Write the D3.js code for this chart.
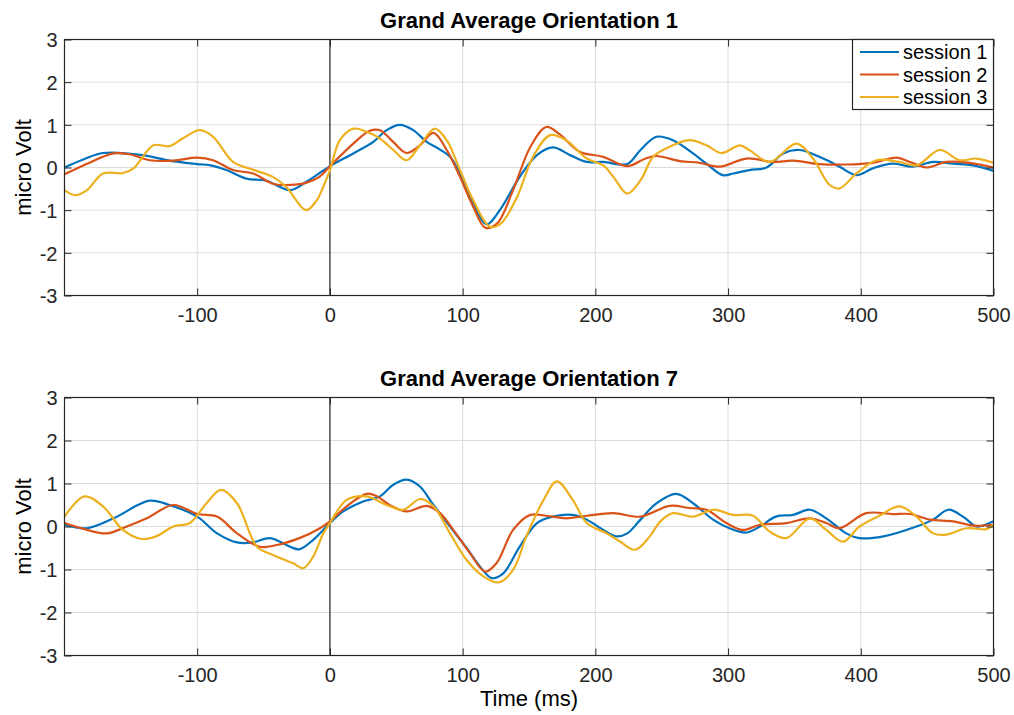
<!DOCTYPE html>
<html>
<head>
<meta charset="utf-8">
<script src="https://cdn.jsdelivr.net/npm/d3@7"></script>
<style>
  html, body { margin: 0; padding: 0; background: #fff; }
  svg { display: block; font-family: "Liberation Sans", Arial, Helvetica, sans-serif; }
</style>
</head>
<body>
<svg id="chart" width="1014" height="715"></svg>
<script>
// ---- data: grand-average ERP traces, [time (ms), amplitude (µV)] ----
const sessionNames = ["session 1", "session 2", "session 3"];
const sessionColors = ["#0072BD", "#D95319", "#EDB120"];
const xTicks = [-100, 0, 100, 200, 300, 400, 500];
const yTicks = [-3, -2, -1, 0, 1, 2, 3];
const panelTitles = ["Grand Average Orientation 1", "Grand Average Orientation 7"];

const o1Session1 = [[-200,0.0],[-185,0.2],[-171,0.34],[-141,0.29],[-121,0.16],[-100,0.08],[-90,0.05],[-78,-0.06],[-63,-0.26],[-48,-0.31],[-30,-0.53],[-18,-0.34],[0,0.03],[17.6,0.33],[32.7,0.6],[42.7,0.875],[52.8,1.0],[62.8,0.875],[72.9,0.6],[83,0.42],[90.5,0.25],[98,-0.14],[108,-0.84],[118,-1.33],[128,-1.0],[143,-0.22],[156,0.29],[168,0.47],[181,0.29],[193.5,0.13],[206,0.13],[224,0.08],[234,0.41],[246,0.72],[258.5,0.64],[273.6,0.33],[283.7,0.09],[296,-0.18],[304,-0.14],[316,-0.06],[329,0],[341.5,0.33],[354,0.41],[371.6,0.21],[384,0.02],[396.7,-0.18],[409,-0.02],[424,0.09],[439,0.02],[454.5,0.13],[469.6,0.09],[484.7,0.05],[500,-0.08]];
const o1Session2 = [[-200,-0.16],[-183,0.09],[-163,0.33],[-151,0.31],[-136,0.17],[-118,0.16],[-100,0.23],[-88,0.17],[-73,-0.06],[-58,-0.14],[-43,-0.38],[-33,-0.41],[-18,-0.36],[-8,-0.22],[0,0.03],[17.6,0.56],[30,0.86],[37.7,0.875],[47.7,0.6],[57.8,0.34],[67.8,0.52],[78,0.81],[88,0.41],[98,-0.22],[108,-0.92],[117,-1.41],[126,-1.31],[138,-0.53],[151,0.48],[163,0.95],[173,0.78],[188,0.37],[206,0.25],[224,0.03],[237,0.2],[246,0.27],[263.6,0.15],[278.6,0.11],[293.7,0.02],[313.8,0.21],[334,0.13],[349,0.16],[369,0.08],[389,0.07],[409,0.11],[427,0.23],[437,0.13],[449.5,0],[464.6,0.13],[482,0.11],[500,0]];
const o1Session3 = [[-200,-0.53],[-192,-0.65],[-183,-0.53],[-171,-0.14],[-156,-0.13],[-148,-0.02],[-133,0.52],[-121,0.5],[-111,0.68],[-98,0.875],[-88,0.72],[-73,0.13],[-58,-0.05],[-43,-0.22],[-33,-0.45],[-18,-1.0],[-10,-0.77],[-5,-0.45],[0,-0.06],[7.5,0.64],[17.6,0.91],[27.6,0.84],[37.7,0.68],[47.7,0.41],[57.8,0.17],[67.8,0.52],[79,0.91],[88,0.64],[98,-0.06],[108,-0.77],[120.6,-1.39],[129,-1.31],[141,-0.69],[153,0.25],[166,0.76],[178,0.64],[193.5,0.21],[206,0.05],[213.6,-0.22],[224,-0.61],[234,-0.3],[243.5,0.25],[253.5,0.45],[271,0.64],[283.7,0.52],[295,0.34],[308.8,0.52],[316,0.41],[331.4,0.13],[351.5,0.56],[364,0.21],[376.6,-0.41],[384,-0.49],[396.7,-0.14],[411.8,0.17],[429,0.13],[442,0.05],[459.5,0.41],[474.6,0.17],[487,0.21],[500,0.11]];

const o7Session1 = [[-200,0.04],[-183,-0.04],[-163,0.19],[-136,0.6],[-121,0.5],[-100,0.23],[-85,-0.16],[-70,-0.37],[-58,-0.37],[-45,-0.27],[-30,-0.47],[-23,-0.53],[-12.6,-0.31],[0,0.08],[10,0.35],[25,0.58],[37.7,0.7],[47.7,0.97],[57.8,1.09],[67.8,0.93],[78,0.5],[90.5,0],[103,-0.5],[113,-0.93],[122,-1.2],[130.6,-1.09],[143,-0.47],[156,0.08],[168,0.23],[183,0.27],[193.5,0.16],[206,-0.08],[216,-0.23],[224,-0.16],[234,0.16],[246,0.54],[261,0.76],[273.6,0.54],[288.7,0.16],[301,-0.04],[313.8,-0.14],[324,0],[336,0.23],[349,0.27],[361.6,0.39],[374,0.19],[389,-0.16],[399,-0.27],[417,-0.23],[442,0],[454.5,0.16],[466,0.39],[477,0.23],[487,0],[492,0.02],[500,0.12]];
const o7Session2 = [[-200,0.08],[-183,-0.08],[-168,-0.16],[-153,0],[-138,0.19],[-118,0.5],[-100,0.29],[-85,0.23],[-70,-0.16],[-53,-0.47],[-40,-0.43],[-23,-0.27],[-7.5,-0.04],[0,0.12],[12.6,0.47],[27.6,0.76],[35,0.71],[45,0.5],[57.8,0.35],[73,0.48],[83,0.31],[93,-0.08],[105.5,-0.62],[117,-1.05],[125.6,-0.85],[138,-0.08],[151,0.27],[163,0.25],[178,0.19],[193.5,0.25],[213.6,0.31],[234,0.23],[256,0.48],[271,0.43],[283.7,0.39],[298.7,0.08],[311,-0.08],[324,0.04],[344,0.08],[361.6,0.19],[374,0.08],[384,-0.04],[404,0.31],[424,0.29],[437,0.29],[452,0.16],[469.6,0.12],[484.7,0.02],[500,0.04]];
const o7Session3 = [[-200,0.23],[-185,0.7],[-171,0.47],[-156,-0.08],[-142,-0.29],[-131,-0.23],[-118,0],[-105.5,0.08],[-93,0.54],[-82,0.85],[-70,0.54],[-55,-0.47],[-43,-0.66],[-28,-0.85],[-20,-0.97],[-12.6,-0.7],[-5,-0.16],[0,0.08],[12.6,0.62],[27.6,0.7],[42.7,0.5],[55.3,0.39],[67.8,0.64],[78,0.47],[90.5,-0.16],[103,-0.78],[115.6,-1.16],[127,-1.3],[138,-1.01],[148,-0.23],[161,0.62],[171,1.05],[183,0.62],[193.5,0.08],[208.5,-0.16],[218.6,-0.35],[230,-0.54],[241,-0.23],[249,0.12],[258.5,0.31],[273.6,0.23],[288.7,0.39],[303.8,0.27],[318.8,0.25],[331.4,-0.12],[344,-0.27],[361.6,0.19],[374,-0.08],[386.7,-0.35],[399,0],[414,0.25],[429,0.47],[442,0.23],[454.5,-0.16],[464.6,-0.19],[479.6,-0.04],[494.7,-0.06],[500,0.04]];

// ---- layout ----
const svg = d3.select("#chart");
const left = 64.5, right = 993.5;
const panels = [
  { top: 39.5, bottom: 295.5, title: panelTitles[0], series: [o1Session1, o1Session2, o1Session3], legend: true },
  { top: 397.5, bottom: 655.5, title: panelTitles[1], series: [o7Session1, o7Session2, o7Session3], legend: false }
];

const x = d3.scaleLinear().domain([-200, 500]).range([left, right]);
const axisColor = "#262626";
const tickLen = 7;
// plain integer labels with an ASCII hyphen for negatives
const fmt = d => String(d);

panels.forEach((p, i) => {
  const y = d3.scaleLinear().domain([-3, 3]).range([p.bottom, p.top]);
  const g = svg.append("g");

  // clip region for the traces
  const clipId = "clip" + i;
  svg.append("defs").append("clipPath").attr("id", clipId)
    .append("rect").attr("x", left).attr("y", p.top)
    .attr("width", right - left).attr("height", p.bottom - p.top);

  // grid
  g.append("g").selectAll("line").data(xTicks).join("line")
    .attr("x1", d => x(d)).attr("x2", d => x(d))
    .attr("y1", p.top).attr("y2", p.bottom)
    .attr("stroke", "#dcdcdc").attr("stroke-width", 1);
  g.append("g").selectAll("line").data(yTicks).join("line")
    .attr("x1", left).attr("x2", right)
    .attr("y1", d => y(d)).attr("y2", d => y(d))
    .attr("stroke", "#dcdcdc").attr("stroke-width", 1);

  // stimulus onset marker
  g.append("line")
    .attr("x1", x(0)).attr("x2", x(0))
    .attr("y1", p.top).attr("y2", p.bottom)
    .attr("stroke", "#000").attr("stroke-width", 1);

  // traces
  const line = d3.line()
    .x(d => x(d[0])).y(d => y(d[1]))
    .curve(d3.curveCatmullRom.alpha(0.5));
  g.append("g").attr("clip-path", `url(#${clipId})`)
    .selectAll("path").data(p.series).join("path")
    .attr("d", line)
    .attr("fill", "none")
    .attr("stroke", (d, k) => sessionColors[k])
    .attr("stroke-width", 2.2)
    .attr("stroke-linejoin", "round");

  // axes: bottom/left with labels, inward ticks on all sides
  const xAxis = d3.axisBottom(x).tickValues(xTicks).tickFormat(fmt).tickSizeInner(-tickLen).tickSizeOuter(0);
  const xa = g.append("g").attr("transform", `translate(0,${p.bottom})`).call(xAxis);
  const yAxis = d3.axisLeft(y).tickValues(yTicks).tickFormat(fmt).tickSizeInner(-tickLen).tickSizeOuter(0);
  const ya = g.append("g").attr("transform", `translate(${left},0)`).call(yAxis);
  const xTop = g.append("g").attr("transform", `translate(0,${p.top})`)
    .call(d3.axisTop(x).tickValues(xTicks).tickSizeInner(-tickLen).tickSizeOuter(0).tickFormat(""));
  const yRight = g.append("g").attr("transform", `translate(${right},0)`)
    .call(d3.axisRight(y).tickValues(yTicks).tickSizeInner(-tickLen).tickSizeOuter(0).tickFormat(""));

  [xa, ya, xTop, yRight].forEach(a => {
    a.select(".domain").remove();
    a.selectAll(".tick line").attr("stroke", axisColor);
    a.selectAll(".tick text")
      .attr("fill", "#262626")
      .attr("font-size", 20)
      .attr("font-family", "'Liberation Sans', Arial, sans-serif");
  });
  xa.selectAll(".tick text").attr("dy", null).attr("y", 26);
  ya.selectAll(".tick text").attr("x", -7).attr("dy", "0.36em");

  // frame
  g.append("rect")
    .attr("x", left).attr("y", p.top)
    .attr("width", right - left).attr("height", p.bottom - p.top)
    .attr("fill", "none").attr("stroke", axisColor).attr("stroke-width", 1.2);

  // title
  g.append("text")
    .attr("x", (left + right) / 2).attr("y", p.top - 12)
    .attr("text-anchor", "middle")
    .attr("font-size", 22).attr("font-weight", "bold").attr("fill", "#000")
    .text(p.title);

  // y label
  g.append("text")
    .attr("transform", `translate(31,${(p.top + p.bottom) / 2}) rotate(-90)`)
    .attr("text-anchor", "middle")
    .attr("font-size", 22).attr("fill", "#000")
    .text("micro Volt");

  // legend
  if (p.legend) {
    const lg = g.append("g");
    lg.append("rect")
      .attr("x", 852.5).attr("y", p.top)
      .attr("width", right - 852.5).attr("height", 70)
      .attr("fill", "#fff").attr("stroke", axisColor).attr("stroke-width", 1.2);
    sessionNames.forEach((name, k) => {
      const cy = p.top + 12.5 + k * 22.5;
      lg.append("line")
        .attr("x1", 860).attr("x2", 899)
        .attr("y1", cy).attr("y2", cy)
        .attr("stroke", sessionColors[k]).attr("stroke-width", 2);
      lg.append("text")
        .attr("x", 903).attr("y", cy + 7)
        .attr("font-size", 20).attr("fill", "#000")
        .text(name);
    });
  }
});

// shared x label
svg.append("text")
  .attr("x", (left + right) / 2).attr("y", 706)
  .attr("text-anchor", "middle")
  .attr("font-size", 22).attr("fill", "#000")
  .text("Time (ms)");
</script>
</body>
</html>
